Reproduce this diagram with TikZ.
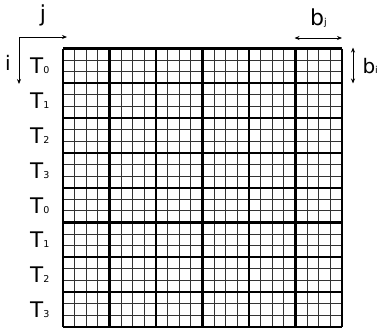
\documentclass[tikz,border=0pt]{standalone}
\usepackage{fontspec}
\setmainfont{DejaVu Sans}
\usetikzlibrary{arrows.meta}
\begin{document}
\begin{tikzpicture}[x=1pt,y=-1pt,
  lbl/.style={inner sep=0pt,font=\fontsize{21.5}{21.5}\selectfont},
  arr/.style={line width=0.8pt,-{Stealth[length=5pt,width=4pt]}},
  darr/.style={line width=0.8pt,{Stealth[length=5pt,width=4pt]}-{Stealth[length=5pt,width=4pt]}},
  fine/.style={line width=0.9pt,black!80},
  blockline/.style={line width=2.2pt,black}]
\newcommand{\sbs}[1]{{\fontsize{9.5}{9.5}\selectfont #1}}
\useasboundingbox (0,0) rectangle (379,333);
\def\cw{11.625}
\def\ch{11.6}
% fine grid
\foreach \k in {1,...,23}{
  \draw[fine] (63+\k*\cw,48.5) -- (63+\k*\cw,48.5+24*\ch);
  \draw[fine] (63,48.5+\k*\ch) -- (63+24*\cw,48.5+\k*\ch);
}
% block lines
\foreach \k in {0,...,6}{
  \draw[blockline] (63+\k*4*\cw,48.5) -- (63+\k*4*\cw,48.5+24*\ch);
}
\foreach \k in {0,...,8}{
  \draw[blockline] (63,48.5+\k*3*\ch) -- (63+24*\cw,48.5+\k*3*\ch);
}
% row labels
\foreach \t [count=\r from 0] in {0,1,2,3,0,1,2,3}{
  \node[lbl,anchor=base west] (T\r) at (30,48.5+\r*3*\ch+1.5*\ch+8) {T\sbs{\t}};
}
% axes
\coordinate (o) at (19,37);
\coordinate (je) at (67,37);
\coordinate (ie) at (19,84);
\draw[arr] (o) -- (je);
\draw[arr] (o) -- (ie);
\node[lbl,anchor=base,font=\fontsize{22}{22}\selectfont] (j) at (43,21) {j};
\node[lbl,anchor=base,font=\fontsize{20}{20}\selectfont] (i) at (8,70) {i};
% block size arrows
\coordinate (bj1) at (294.5,38);
\coordinate (bj2) at (342,38);
\draw[darr] (bj1) -- (bj2);
\node[lbl,anchor=base west,font=\fontsize{22}{22}\selectfont] (bj) at (310,25) {b\sbs{j}};
\coordinate (bi1) at (353,47.5);
\coordinate (bi2) at (353,83.5);
\draw[darr] (bi1) -- (bi2);
\node[lbl,anchor=base west,font=\fontsize{20}{20}\selectfont] (bi) at (362.3,73.5) {b\sbs{i}};
\end{tikzpicture}
\end{document}
